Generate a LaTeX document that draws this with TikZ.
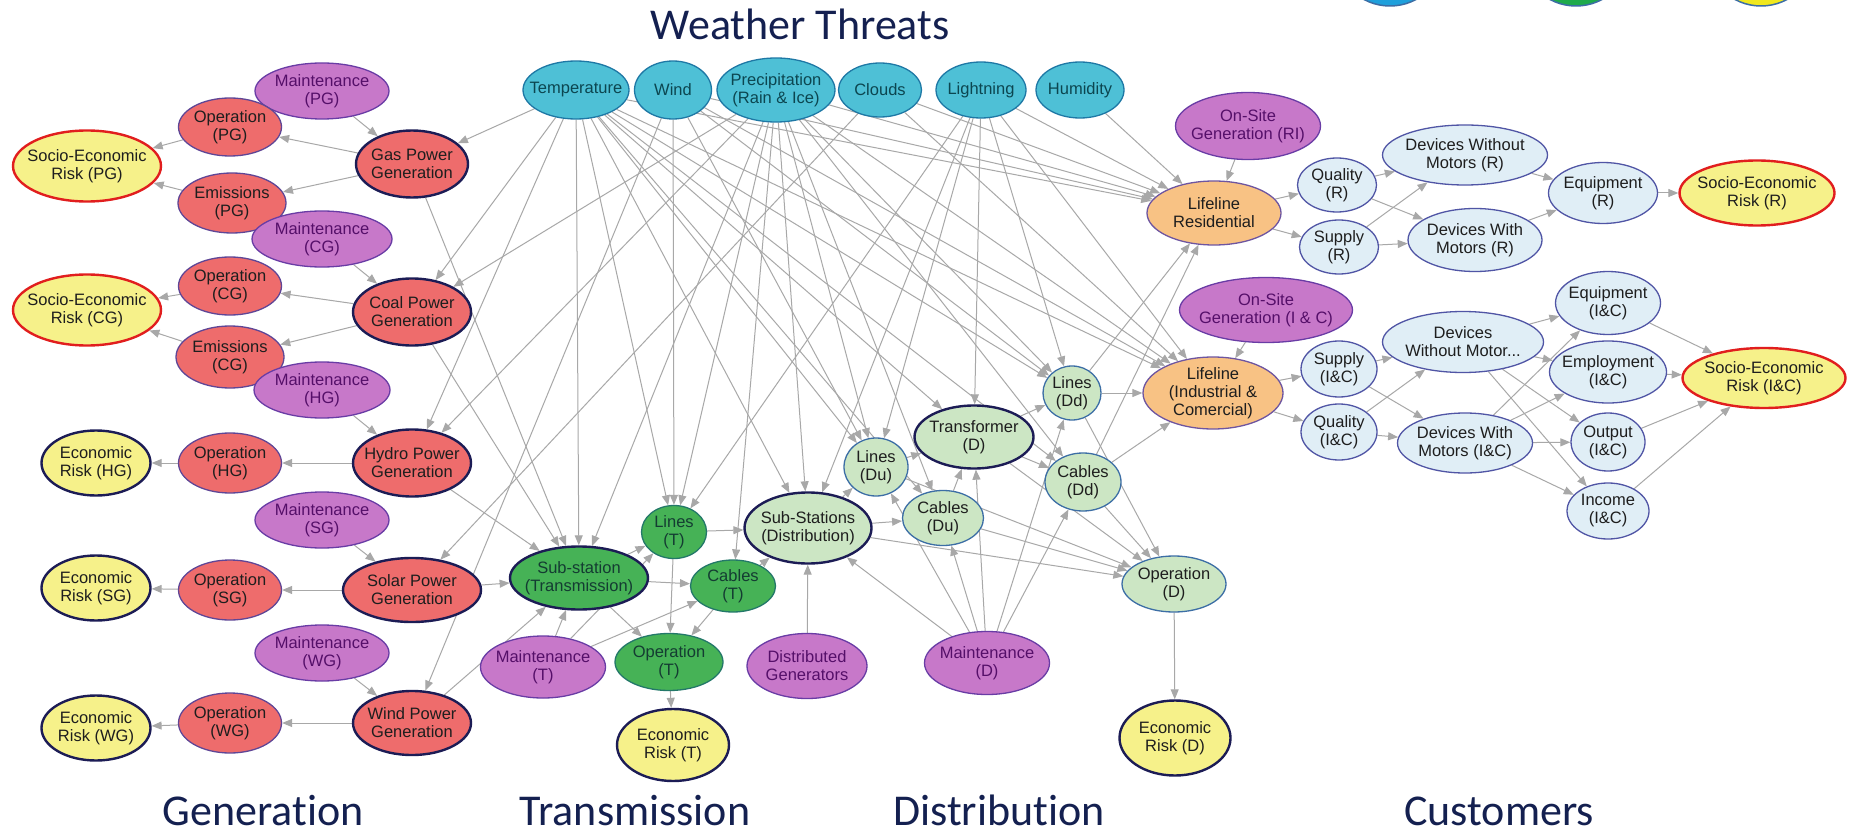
\documentclass[tikz,border=0pt]{standalone}
\usepackage{fontspec}
\setmainfont{Liberation Sans}
\newfontfamily\headfont{Carlito}[Ligatures=NoCommon]
\usetikzlibrary{shapes.geometric,arrows.meta}
\pgfdeclarelayer{bg}
\pgfsetlayers{bg,main}

\definecolor{ecol}{RGB}{168,168,168}
\definecolor{wfill}{RGB}{78,192,214}
\definecolor{wdraw}{RGB}{30,120,165}
\definecolor{wtext}{RGB}{12,70,80}
\definecolor{pfill}{RGB}{199,120,201}
\definecolor{pdraw}{RGB}{105,60,165}
\definecolor{ptext}{RGB}{85,15,105}
\definecolor{rfill}{RGB}{238,108,108}
\definecolor{rdraw}{RGB}{95,70,150}
\definecolor{navy}{RGB}{28,28,85}
\definecolor{yfill}{RGB}{246,241,138}
\definecolor{redb}{RGB}{225,30,30}
\definecolor{gfill}{RGB}{70,178,86}
\definecolor{gdraw}{RGB}{35,120,105}
\definecolor{gtext}{RGB}{20,60,50}
\definecolor{lfill}{RGB}{204,230,196}
\definecolor{ldraw}{RGB}{60,110,165}
\definecolor{ofill}{RGB}{248,194,132}
\definecolor{odraw}{RGB}{110,85,160}
\definecolor{cfill}{RGB}{224,238,246}
\definecolor{cdraw}{RGB}{80,85,165}
\definecolor{dtext}{RGB}{30,30,30}
\definecolor{headc}{RGB}{20,32,80}
\definecolor{legb}{RGB}{30,160,220}
\definecolor{legg}{RGB}{30,170,75}
\definecolor{legy}{RGB}{240,232,30}

\tikzset{
  ellb/.style={ellipse, inner sep=0pt, line width=1.3pt},
  lbl/.style={align=center, inner sep=0pt, font=\fontsize{16.5}{18}\selectfont},
  wth/.style={ellb, fill=wfill, draw=wdraw},   wtht/.style={lbl, text=wtext},
  pur/.style={ellb, fill=pfill, draw=pdraw},   purt/.style={lbl, text=ptext},
  rop/.style={ellb, fill=rfill, draw=rdraw},   ropt/.style={lbl, text=dtext},
  gen/.style={ellb, fill=rfill, draw=navy, line width=2.4pt}, gent/.style={lbl, text=dtext},
  ser/.style={ellb, fill=yfill, draw=redb, line width=2.4pt}, sert/.style={lbl, text=dtext},
  erk/.style={ellb, fill=yfill, draw=navy, line width=2.4pt}, erkt/.style={lbl, text=dtext},
  dgr/.style={ellb, fill=gfill, draw=gdraw},   dgrt/.style={lbl, text=gtext},
  dgb/.style={ellb, fill=gfill, draw=navy, line width=2.4pt}, dgbt/.style={lbl, text=gtext},
  lgr/.style={ellb, fill=lfill, draw=ldraw},   lgrt/.style={lbl, text=dtext},
  lgb/.style={ellb, fill=lfill, draw=navy, line width=2.4pt}, lgbt/.style={lbl, text=dtext},
  org/.style={ellb, fill=ofill, draw=odraw},   orgt/.style={lbl, text=dtext},
  cus/.style={ellb, fill=cfill, draw=cdraw},   cust/.style={lbl, text=dtext},
  arr/.style={draw=ecol, line width=1pt, -{Triangle[length=10pt,width=8pt]}},
  head/.style={font=\headfont\fontsize{44}{50}\selectfont, text=headc, inner sep=0pt, anchor=base},
  legc/.style={circle, minimum size=110pt, inner sep=0pt, line width=1.5pt, draw=ldraw}
}

\newcommand{\nd}[7]{%
  \node[#6, minimum width=#4pt, minimum height=#5pt] (#1) at (#2,#3) {};
  \node[#6t] at (#1.center) {#7};}

\begin{document}
\begin{tikzpicture}[x=1pt,y=-1pt]
\useasboundingbox (0,0) rectangle (1854,834);

% legend circles (cut at top)
\node[legc, fill=legb] (cB) at (1390,-49) {};
\node[legc, fill=legg] (cG) at (1576,-49) {};
\node[legc, fill=legy] (cY) at (1761,-49) {};

% headings
\node[head] (hW) at (800,40) {Weather Threats};
\node[head] (hG) at (263,825) {Generation};
\node[head] (hT) at (635,825) {Transmission};
\node[head] (hD) at (999,825) {Distribution};
\node[head] (hC) at (1499,825) {Customers};

% weather
\nd{Te}{576}{90}{106}{58}{wth}{Temperature}
\nd{Wi}{673}{90}{77}{58}{wth}{Wind}
\nd{Pr}{776}{90}{118}{64}{wth}{Precipitation\\(Rain \& Ice)}
\nd{Cl}{880}{90}{83}{54}{wth}{Clouds}
\nd{Li}{981}{90}{90}{56}{wth}{Lightning}
\nd{Hu}{1080}{90}{88}{56}{wth}{Humidity}

% generation
\nd{MaintPG}{322}{91}{134}{56}{pur}{Maintenance\\(PG)}
\nd{OpPG}{230}{127}{103}{58}{rop}{Operation\\(PG)}
\nd{SEPG}{87}{166}{148}{71}{ser}{Socio-Economic\\Risk (PG)}
\nd{GasPG}{412}{164}{112}{67}{gen}{Gas Power\\Generation}
\nd{EmPG}{232}{203}{108}{60}{rop}{Emissions\\(PG)}
\nd{MaintCG}{322}{239}{140}{56}{pur}{Maintenance\\(CG)}
\nd{OpCG}{230}{286}{103}{58}{rop}{Operation\\(CG)}
\nd{SECG}{87}{310}{148}{71}{ser}{Socio-Economic\\Risk (CG)}
\nd{CoalPG}{412}{312}{118}{67}{gen}{Coal Power\\Generation}
\nd{EmCG}{230}{357}{108}{62}{rop}{Emissions\\(CG)}
\nd{MaintHG}{322}{390}{136}{56}{pur}{Maintenance\\(HG)}
\nd{ERHG}{96}{463}{109}{65}{erk}{Economic\\Risk (HG)}
\nd{OpHG}{230}{463}{103}{60}{rop}{Operation\\(HG)}
\nd{HydroPG}{412}{463}{118}{67}{gen}{Hydro Power\\Generation}
\nd{MaintSG}{322}{520}{134}{56}{pur}{Maintenance\\(SG)}
\nd{ERSG}{96}{588}{109}{65}{erk}{Economic\\Risk (SG)}
\nd{OpSG}{230}{590}{103}{60}{rop}{Operation\\(SG)}
\nd{SolarPG}{412}{590}{138}{64}{gen}{Solar Power\\Generation}
\nd{MaintWG}{322}{653}{134}{56}{pur}{Maintenance\\(WG)}
\nd{ERWG}{96}{728}{109}{65}{erk}{Economic\\Risk (WG)}
\nd{OpWG}{230}{723}{103}{60}{rop}{Operation\\(WG)}
\nd{WindPG}{412}{723}{118}{64}{gen}{Wind Power\\Generation}

% transmission
\nd{SubT}{579}{578}{138}{63}{dgb}{Sub-station\\(Transmission)}
\nd{LinesT}{674}{532}{65}{53}{dgr}{Lines\\(T)}
\nd{CablesT}{733}{586}{85}{52}{dgr}{Cables\\(T)}
\nd{MaintT}{543}{667}{125}{62}{pur}{Maintenance\\(T)}
\nd{OpT}{669}{662}{108}{57}{dgr}{Operation\\(T)}
\nd{ERT}{673}{745}{112}{72}{erk}{Economic\\Risk (T)}
\nd{DistGen}{807}{666}{120}{65}{pur}{Distributed\\Generators}

% distribution
\nd{SubD}{808}{528}{127}{71}{lgb}{Sub-Stations\\(Distribution)}
\nd{LinesDu}{876}{467}{64}{58}{lgr}{Lines\\(Du)}
\nd{Transformer}{974}{437}{119}{63}{lgb}{Transformer\\(D)}
\nd{CablesDu}{943}{518}{81}{55}{lgr}{Cables\\(Du)}
\nd{LinesDd}{1072}{393}{58}{54}{lgr}{Lines\\(Dd)}
\nd{CablesDd}{1083}{482}{76}{58}{lgr}{Cables\\(Dd)}
\nd{OpD}{1174}{584}{104}{56}{lgr}{Operation\\(D)}
\nd{MaintD}{987}{663}{125}{63}{pur}{Maintenance\\(D)}
\nd{ERD}{1175}{738}{111}{75}{erk}{Economic\\Risk (D)}

% customers
\nd{OnSiteRI}{1248}{126}{145}{67}{pur}{On-Site\\Generation (RI)}
\nd{LifeRes}{1214}{213}{134}{64}{org}{Lifeline\\Residential}
\nd{QualR}{1337}{185}{79}{54}{cus}{Quality\\(R)}
\nd{SupplyR}{1339}{247}{79}{54}{cus}{Supply\\(R)}
\nd{DWOR}{1465}{155}{165}{60}{cus}{Devices Without\\Motors (R)}
\nd{DWR}{1475}{240}{134}{63}{cus}{Devices With\\Motors (R)}
\nd{EqR}{1603}{193}{109}{61}{cus}{Equipment\\(R)}
\nd{SER}{1757}{193}{155}{65}{ser}{Socio-Economic\\Risk (R)}
\nd{OnSiteIC}{1266}{310}{173}{65}{pur}{On-Site\\Generation (I \& C)}
\nd{LifeIC}{1213}{393}{140}{72}{org}{Lifeline\\(Industrial \&\\Comercial)}
\nd{SupplyIC}{1339}{369}{76}{56}{cus}{Supply\\(I\&C)}
\nd{QualIC}{1339}{432}{76}{56}{cus}{Quality\\(I\&C)}
\nd{DWOIC}{1463}{342}{161}{61}{cus}{Devices\\Without Motor...}
\nd{DWIC}{1465}{443}{135}{60}{cus}{Devices With\\Motors (I\&C)}
\nd{EqIC}{1608}{303}{105}{63}{cus}{Equipment\\(I\&C)}
\nd{EmpIC}{1608}{372}{117}{62}{cus}{Employment\\(I\&C)}
\nd{OutIC}{1608}{442}{74}{58}{cus}{Output\\(I\&C)}
\nd{IncIC}{1608}{511}{82}{56}{cus}{Income\\(I\&C)}
\nd{SEIC}{1764}{378}{163}{60}{ser}{Socio-Economic\\Risk (I\&C)}

\begin{pgfonlayer}{bg}
\fill[white] (0,0) rectangle (1854,834);
\foreach \a/\b in {
  MaintPG/GasPG, GasPG/OpPG, GasPG/EmPG, OpPG/SEPG, EmPG/SEPG,
  MaintCG/CoalPG, CoalPG/OpCG, CoalPG/EmCG, OpCG/SECG, EmCG/SECG,
  MaintHG/HydroPG, HydroPG/OpHG, OpHG/ERHG,
  MaintSG/SolarPG, SolarPG/OpSG, OpSG/ERSG,
  MaintWG/WindPG, WindPG/OpWG, OpWG/ERWG,
  GasPG/SubT, CoalPG/SubT, HydroPG/SubT, SolarPG/SubT, WindPG/SubT,
  Te/GasPG, Te/CoalPG, Pr/CoalPG, Te/HydroPG, Pr/HydroPG, Cl/SolarPG, Wi/WindPG,
  SubT/LinesT, SubT/CablesT, SubT/OpT, MaintT/SubT, MaintT/LinesT, MaintT/CablesT,
  LinesT/OpT, CablesT/OpT, OpT/ERT, LinesT/SubD, CablesT/SubD, DistGen/SubD,
  Te/SubT, Pr/SubT, Te/LinesT, Wi/LinesT, Pr/LinesT, Li/LinesT, Pr/CablesT,
  Te/SubD, Pr/SubD, Li/SubD,
  SubD/LinesDu, SubD/CablesDu, SubD/OpD,
  LinesDu/Transformer, CablesDu/Transformer, LinesDu/OpD, CablesDu/OpD,
  Transformer/LinesDd, Transformer/CablesDd, Transformer/OpD,
  LinesDd/OpD, CablesDd/OpD,
  MaintD/SubD, MaintD/LinesDu, MaintD/CablesDu, MaintD/Transformer, MaintD/LinesDd, MaintD/CablesDd,
  OpD/ERD,
  Te/LinesDu, Wi/LinesDu, Pr/LinesDu, Li/LinesDu,
  Te/Transformer, Li/Transformer, Te/CablesDu, Pr/CablesDu,
  Te/LinesDd, Wi/LinesDd, Pr/LinesDd, Li/LinesDd, Te/CablesDd, Pr/CablesDd,
  LinesDd/LifeIC, LinesDd/LifeRes, CablesDd/LifeIC, CablesDd/LifeRes,
  Te/LifeRes, Wi/LifeRes, Pr/LifeRes, Cl/LifeRes, Li/LifeRes, Hu/LifeRes,
  Te/LifeIC, Wi/LifeIC, Pr/LifeIC, Cl/LifeIC, Li/LifeIC,
  OnSiteRI/LifeRes, LifeRes/QualR, LifeRes/SupplyR, QualR/DWOR, QualR/DWR,
  SupplyR/DWOR, SupplyR/DWR, DWOR/EqR, DWR/EqR, EqR/SER,
  OnSiteIC/LifeIC, LifeIC/SupplyIC, LifeIC/QualIC, SupplyIC/DWOIC, SupplyIC/DWIC,
  QualIC/DWOIC, QualIC/DWIC,
  DWOIC/EqIC, DWOIC/EmpIC, DWOIC/OutIC, DWOIC/IncIC,
  DWIC/EqIC, DWIC/EmpIC, DWIC/OutIC, DWIC/IncIC,
  EqIC/SEIC, EmpIC/SEIC, OutIC/SEIC, IncIC/SEIC}
  \draw[arr] (\a) -- (\b);
\end{pgfonlayer}
\end{tikzpicture}
\end{document}
